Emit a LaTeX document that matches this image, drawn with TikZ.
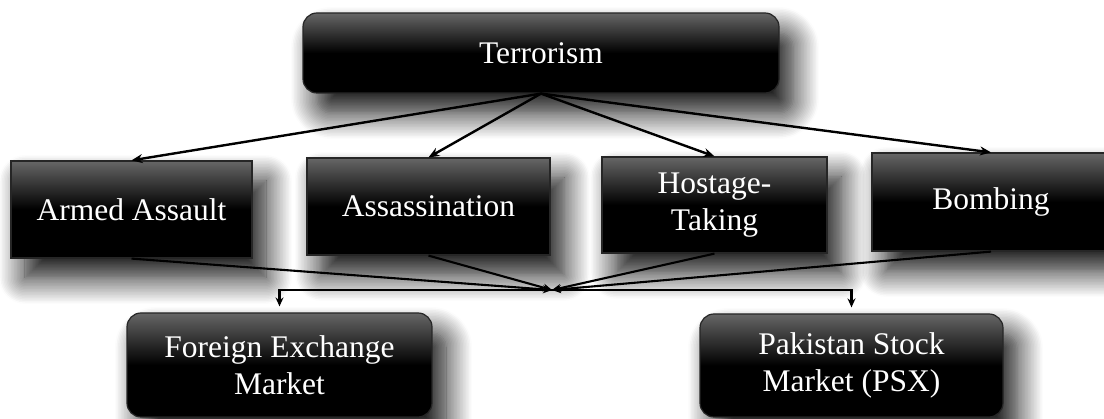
\documentclass[tikz,border=0pt]{standalone}
\usepackage{fontspec}
\setmainfont{Liberation Serif}
\usetikzlibrary{arrows.meta,shadows.blur}
\pgfdeclareverticalshading{gloss}{100bp}{color(0bp)=(black); color(25bp)=(black); color(50bp)=(black); color(75bp)=(black!60); color(100bp)=(black!60)}

\begin{document}
\begin{tikzpicture}[x=1pt,y=1pt]
\tikzset{
  box/.style={draw=black!85,line width=1.2pt,shading=gloss,text=white,align=center,inner sep=0pt,
    font=\fontsize{31.5}{37}\selectfont,
    blur shadow={shadow xshift=14pt,shadow yshift=-20pt,shadow blur radius=26pt,shadow blur steps=18,shadow opacity=95}},
  roundbox/.style={box,rounded corners=14pt},
  link/.style={-{Stealth[length=11pt,width=9pt]},line width=2.4pt},
  feed/.style={-{Stealth[length=9pt,width=8pt]},line width=2.1pt}
}
\useasboundingbox (0,0) rectangle (1104,419);
% top level
\node[roundbox,minimum width=476pt,minimum height=80pt] (n_terror) at (541,366) {Terrorism};
% kinds of attack
\node[box,minimum width=241pt,minimum height=97pt] (n_armed) at (131.5,209.5) {Armed Assault};
\node[box,minimum width=243pt,minimum height=97pt] (n_assas) at (428.5,212.5) {Assassination};
\node[box,minimum width=225pt,minimum height=96pt] (n_hostage) at (714.5,214) {Hostage-\\Taking};
\node[box,minimum width=238pt,minimum height=98pt] (n_bomb) at (991,217) {Bombing};
% markets
\node[roundbox,minimum width=305pt,minimum height=104pt] (n_forex) at (279.5,54) {Foreign Exchange\\Market};
\node[roundbox,minimum width=303pt,minimum height=103pt] (n_psx) at (851.5,53.5) {Pakistan Stock\\Market (PSX)};
\coordinate (c_hub) at (552,129);
\foreach \t in {n_armed,n_assas,n_hostage,n_bomb}
  \draw[link] (n_terror.south) -- (\t.north);
\foreach \s in {n_armed,n_assas,n_hostage,n_bomb}
  \draw[feed] (\s.south) -- (c_hub);
\draw[feed] (c_hub) -| ([yshift=6pt]n_forex.north);
\draw[feed] (c_hub) -| ([yshift=6pt]n_psx.north);
\end{tikzpicture}
\end{document}
